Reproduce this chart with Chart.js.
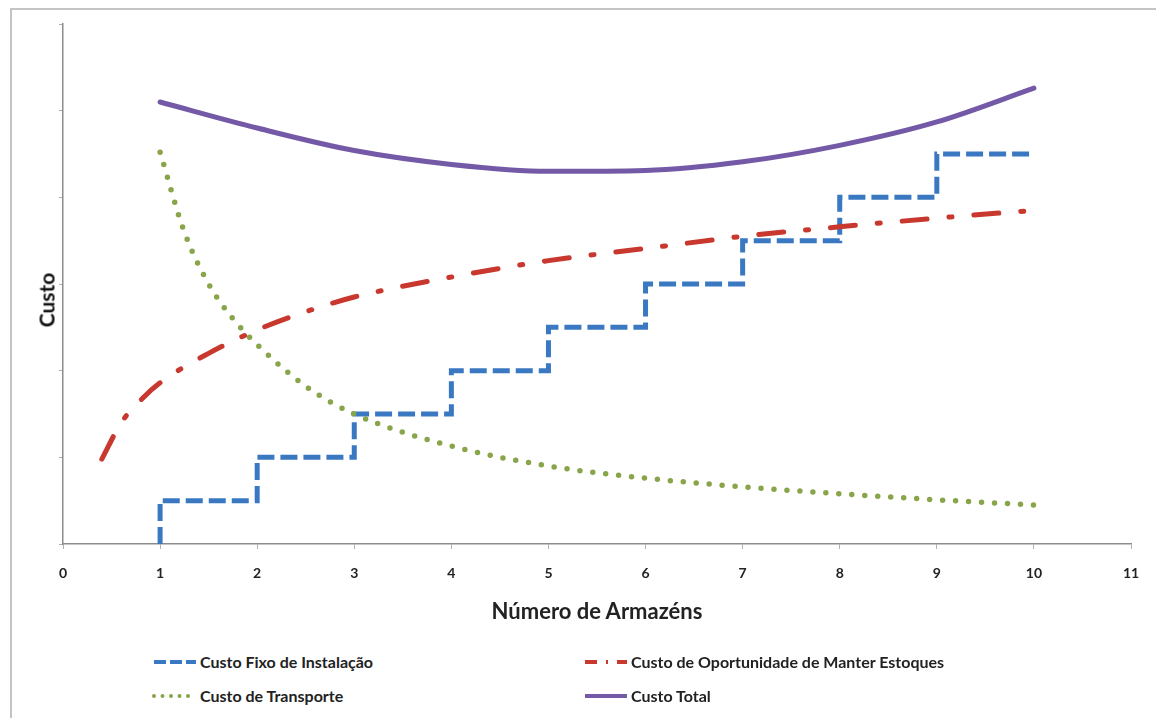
<!DOCTYPE html>
<html lang="pt">
<head>
    <meta charset="UTF-8">
    <title>Custos x Número de Armazéns</title>
    <script src="https://cdn.jsdelivr.net/npm/chart.js"></script>
    <style>
        body {
            margin: 0;
            background: #ffffff;
            font-family: Lato, "Open Sans", sans-serif;
            color: #222;
        }

        #wrap {
            position: relative;
            width: 1156px;
            height: 718px;
            overflow: hidden;
        }

        #frame {
            position: absolute;
            left: 10px;
            top: 8px;
            width: 1170px;
            height: 730px;
            border: 2px solid #c4c4c4;
        }

        #chart-box {
            position: absolute;
            left: 0;
            top: 0;
            width: 1156px;
            height: 600px;
        }

        #y-title {
            position: absolute;
            left: 46px;
            top: 300px;
            transform: translate(-50%, -50%) rotate(-90deg);
            font-weight: bold;
            font-size: 21px;
            color: #111;
        }

        #x-title {
            position: absolute;
            left: 597px;
            top: 610px;
            transform: translate(-50%, -50%);
            font-weight: bold;
            font-size: 22px;
            color: #222;
            white-space: nowrap;
        }

        .legend-item {
            position: absolute;
            display: flex;
            align-items: center;
            font-size: 16px;
            font-weight: bold;
            color: #222;
            white-space: nowrap;
        }

        .legend-item svg {
            margin-right: 2px;
        }
    </style>
</head>
<body>
    <div id="wrap">
        <div id="frame"></div>
        <div id="chart-box"><canvas id="custos-chart"></canvas></div>
        <div id="y-title">Custo</div>
        <div id="x-title">Número de Armazéns</div>
        <div id="legend"></div>
    </div>
    <script>
        // Custo Fixo de Instalação (escada, degrau em cada armazém)
        const armazens = [1, 2, 3, 4, 5, 6, 7, 8, 9, 10];
        const custoFixo = [0, 0.5, 1, 1.5, 2, 2.5, 3, 3.5, 4, 4.5];

        // Custo de Oportunidade de Manter Estoques
        const estoqueX = [0.4, 0.6, 0.8, 1, 1.5, 2, 2.5, 3, 4, 5, 6, 7, 8, 9, 10];
        const custoEstoque = [0.98, 1.4, 1.66, 1.86, 2.2, 2.47, 2.68, 2.85, 3.08, 3.27, 3.41, 3.55, 3.66, 3.76, 3.85];

        // Custo de Transporte
        const transporteX = [1, 1.25, 1.5, 1.75, 2, 2.5, 3, 4, 5, 6, 7, 8, 9, 10];
        const custoTransporte = [4.52, 3.6, 3.0, 2.6, 2.3, 1.82, 1.5, 1.13, 0.9, 0.76, 0.66, 0.58, 0.51, 0.45];

        // Custo Total
        const totalX = [1, 2, 3, 4, 5, 6, 7, 8, 9, 10];
        const custoTotal = [5.1, 4.8, 4.54, 4.38, 4.3, 4.31, 4.41, 4.6, 4.87, 5.26];

        const xTicks = [0, 1, 2, 3, 4, 5, 6, 7, 8, 9, 10, 11];

        const colors = {
            fixo: "#3b78c2",
            estoque: "#c8382e",
            transporte: "#88a54a",
            total: "#7459a6"
        };

        function toPoints(xs, ys) {
            return xs.map((x, i) => ({ x: x, y: ys[i] }));
        }

        new Chart(document.getElementById("custos-chart").getContext("2d"), {
            type: "line",
            data: {
                datasets: [
                    {
                        label: "Custo Total",
                        data: toPoints(totalX, custoTotal),
                        borderColor: colors.total,
                        borderWidth: 5,
                        cubicInterpolationMode: "monotone",
                        borderCapStyle: "round"
                    },
                    {
                        label: "Custo de Oportunidade de Manter Estoques",
                        data: toPoints(estoqueX, custoEstoque),
                        borderColor: colors.estoque,
                        borderWidth: 5,
                        borderDash: [25, 22, 3, 22],
                        cubicInterpolationMode: "monotone",
                        borderCapStyle: "round"
                    },
                    {
                        label: "Custo de Transporte",
                        data: toPoints(transporteX, custoTransporte),
                        borderColor: colors.transporte,
                        borderWidth: 5.5,
                        borderDash: [0, 13],
                        cubicInterpolationMode: "monotone",
                        borderCapStyle: "round"
                    },
                    {
                        label: "Custo Fixo de Instalação",
                        data: toPoints(armazens, custoFixo),
                        borderColor: colors.fixo,
                        borderWidth: 5,
                        borderDash: [17, 6],
                        stepped: "after",
                        borderCapStyle: "butt"
                    }
                ]
            },
            options: {
                responsive: true,
                maintainAspectRatio: false,
                animation: false,
                events: [],
                elements: { point: { radius: 0 } },
                layout: { padding: { left: 43, right: 25, top: 24, bottom: 0 } },
                plugins: {
                    legend: { display: false },
                    tooltip: { enabled: false }
                },
                scales: {
                    x: {
                        type: "linear",
                        min: 0,
                        max: 11,
                        afterBuildTicks: (scale) => {
                            scale.ticks = xTicks.map(v => ({ value: v }));
                        },
                        afterFit: (scale) => { scale.height = 56; },
                        border: { color: "#8c8c8c", width: 1.5 },
                        grid: { drawOnChartArea: false, tickLength: 5, color: "#b0b0b0" },
                        ticks: {
                            padding: 16,
                            color: "#222",
                            font: { family: "Lato", size: 14, weight: "bold" }
                        }
                    },
                    y: {
                        min: 0,
                        max: 6,
                        afterFit: (scale) => { scale.width = 20; },
                        border: { color: "#8c8c8c", width: 1.5 },
                        grid: { drawOnChartArea: false, tickLength: 4, color: "#b0b0b0" },
                        ticks: { stepSize: 1, callback: () => "" }
                    }
                }
            }
        });

        // Legenda em duas colunas, com amostra do traço de cada série
        const legendItems = [
            { label: "Custo Fixo de Instalação", color: colors.fixo, dash: "12 4", cap: "butt", width: 4, left: 152, top: 663 },
            { label: "Custo de Oportunidade de Manter Estoques", color: colors.estoque, dash: "12 9 2 9", cap: "butt", width: 4, left: 583, top: 663 },
            { label: "Custo de Transporte", color: colors.transporte, dash: "0 8.5", cap: "round", width: 4, left: 152, top: 697 },
            { label: "Custo Total", color: colors.total, dash: "", cap: "butt", width: 4, left: 583, top: 697 }
        ];

        const legend = document.getElementById("legend");
        legendItems.forEach(item => {
            const div = document.createElement("div");
            div.className = "legend-item";
            div.style.left = item.left + "px";
            div.style.top = (item.top - 11) + "px";
            div.innerHTML =
                `<svg width="46" height="10"><line x1="2" y1="5" x2="44" y2="5" stroke="${item.color}" ` +
                `stroke-width="${item.width}" stroke-dasharray="${item.dash}" stroke-linecap="${item.cap}"/></svg>` +
                `<span>${item.label}</span>`;
            legend.appendChild(div);
        });
    </script>
</body>
</html>
